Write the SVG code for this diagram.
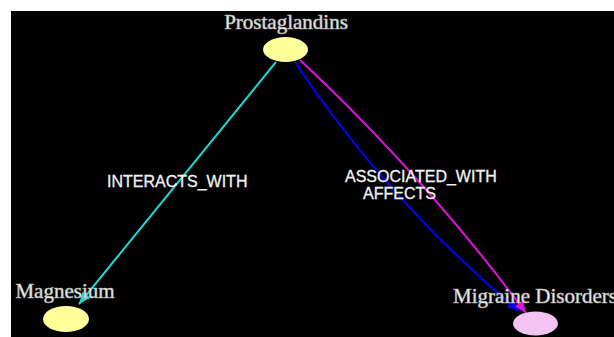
<svg xmlns="http://www.w3.org/2000/svg" width="614" height="337" viewBox="0 0 614 337">
<style>
.node-label{font-family:"Liberation Serif","Times New Roman",serif;font-size:21px;fill:#f4f4f4;stroke:#b0b0b0;stroke-width:0.6px}
.edge-label{font-family:"Liberation Sans",Arial,sans-serif;font-size:16px;fill:#f2f2f2;stroke:#f2f2f2;stroke-width:0.3px}
.edge{fill:none;stroke-width:2}
</style>
<defs>
<marker id="ah-cyan" markerWidth="12" markerHeight="10" refX="12" refY="5" orient="auto" markerUnits="userSpaceOnUse"><path d="M0,0 L12,5 L0,10 Z" fill="#1ed8d8"/></marker>
<marker id="ah-blue" markerWidth="12" markerHeight="10" refX="12" refY="5" orient="auto" markerUnits="userSpaceOnUse"><path d="M0,0 L12,5 L0,10 Z" fill="#0000ff"/></marker>
<marker id="ah-magenta" markerWidth="12" markerHeight="10" refX="12" refY="5" orient="auto" markerUnits="userSpaceOnUse"><path d="M0,0 L12,5 L0,10 Z" fill="#e010e0"/></marker>
</defs>
<rect x="0" y="0" width="614" height="337" fill="#ffffff"/>
<rect x="11" y="11" width="603" height="326" fill="#000000"/>
<g id="connectors">
<path class="edge" d="M276,62 L79,304" stroke="#1ed8d8" marker-end="url(#ah-cyan)"/>
<path class="edge" d="M295,62 Q388,202 519,311" stroke="#0000ff" marker-end="url(#ah-blue)"/>
<path class="edge" d="M300,60 Q424,176 526,313" stroke="#e010e0" marker-end="url(#ah-magenta)"/>
<text class="edge-label" x="107" y="187">INTERACTS_WITH</text>
<text class="edge-label" x="345" y="182">ASSOCIATED_WITH</text>
<text class="edge-label" x="363" y="199">AFFECTS</text>
</g>
<g id="node-prostaglandins">
<ellipse cx="285.5" cy="49.5" rx="22.5" ry="12.5" fill="#ffff99"/>
<text class="node-label" x="286" y="29" text-anchor="middle">Prostaglandins</text>
</g>
<g id="node-magnesium">
<ellipse cx="66" cy="319" rx="23" ry="13" fill="#ffff99"/>
<text class="node-label" x="65" y="298" text-anchor="middle">Magnesium</text>
</g>
<g id="node-migraine">
<ellipse cx="535.5" cy="323.5" rx="22.5" ry="12" fill="#f3c3f3"/>
<text class="node-label" x="453" y="303">Migraine Disorders</text>
</g>
</svg>
